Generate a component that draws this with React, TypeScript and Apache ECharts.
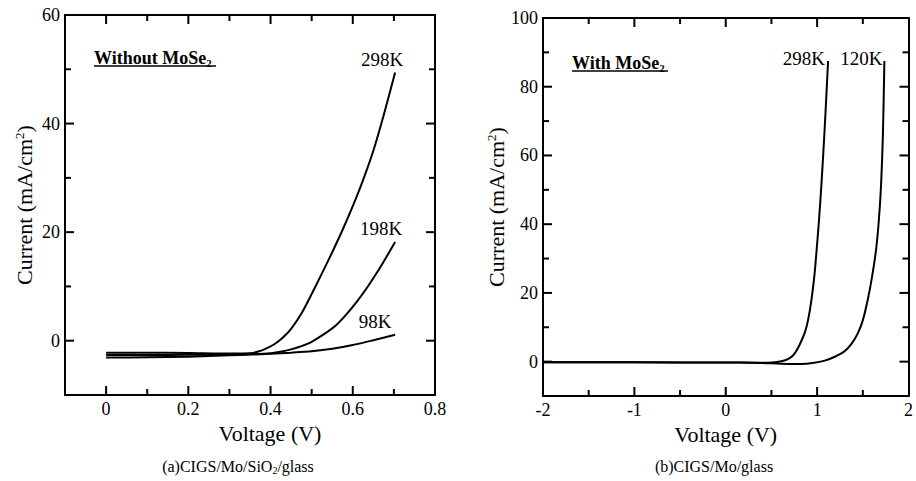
import React, { useEffect, useRef } from "react";
import * as echarts from "echarts";

// ---------- data ----------
// (a) CIGS/Mo/SiO2/glass — without MoSe2
const a298K: [number, number][] = [
  [0, -2.2], [0.1, -2.2], [0.2, -2.25], [0.3, -2.35], [0.35, -2.3], [0.37, -2.0],
  [0.39, -1.4], [0.41, -0.6], [0.43, 0.6], [0.45, 2.2], [0.475, 5.0], [0.5, 8.6],
  [0.525, 12.4], [0.55, 16.3], [0.575, 20.4], [0.6, 24.8], [0.625, 29.6],
  [0.65, 35.0], [0.675, 41.5], [0.703, 49.4],
];
const a198K: [number, number][] = [
  [0, -2.65], [0.1, -2.65], [0.2, -2.6], [0.3, -2.55], [0.35, -2.5], [0.4, -2.3],
  [0.43, -1.95], [0.45, -1.6], [0.475, -1.0], [0.5, -0.2], [0.53, 1.2], [0.56, 2.9],
  [0.585, 4.9], [0.61, 7.2], [0.635, 9.8], [0.66, 12.7], [0.68, 15.2], [0.703, 18.2],
];
const a98K: [number, number][] = [
  [0, -3.1], [0.1, -3.05], [0.2, -2.95], [0.3, -2.7], [0.35, -2.55], [0.4, -2.4],
  [0.45, -2.2], [0.5, -1.95], [0.55, -1.5], [0.6, -0.8], [0.65, 0.1], [0.703, 1.1],
];
// (b) CIGS/Mo/glass — with MoSe2
const b298K: [number, number][] = [
  [-2, -0.2], [-1, -0.2], [0, -0.25], [0.3, -0.3], [0.47, -0.3], [0.61, 0.1],
  [0.7, 1.0], [0.757, 2.5], [0.81, 5.0], [0.866, 8.5], [0.9, 12.0], [0.938, 18.0],
  [0.97, 25.0], [0.993, 32.0], [1.02, 41.0], [1.047, 51.5], [1.083, 68.0],
  [1.12, 87.5],
];
const b120K: [number, number][] = [
  [-2, -0.2], [-1, -0.2], [0, -0.25], [0.3, -0.3], [0.5, -0.5], [0.7, -0.7],
  [0.83, -0.7], [0.95, -0.4], [1.084, 0.3], [1.2, 1.5], [1.3, 3.0], [1.38, 5.3],
  [1.446, 8.3], [1.5, 12.0], [1.554, 18.0], [1.6, 24.5], [1.645, 32.6],
  [1.675, 41.0], [1.699, 51.0], [1.72, 66.0], [1.736, 87.5],
];

// axis ranges, labelled values and tick values
const aXRange = [-0.1, 0.8];
const aXLabels = [0, 0.2, 0.4, 0.6, 0.8];
const aXMajor = [0, 0.2, 0.4, 0.6];
const aXMinor = [0.1, 0.3, 0.5, 0.7];
const aYRange = [-10, 60];
const aYLabels = [0, 20, 40, 60];
const aYMajor = [0, 20, 40];
const aYMinor = [10, 30, 50];
const bXRange = [-2, 2];
const bXLabels = [-2, -1, 0, 1, 2];
const bXMajor = [-1, 0, 1];
const bXMinor = [-1.5, -0.5, 0.5, 1.5];
const bYRange = [-10, 100];
const bYLabels = [0, 20, 40, 60, 80, 100];
const bYMajor = [0, 20, 40, 60, 80];
const bYMinor = [10, 30, 50, 70, 90];

const FONT = "'Liberation Serif', 'Times New Roman', serif";

function axisSet(
  dim: "x" | "y",
  gridIndex: number,
  range: number[],
  labels: number[],
  name: string,
  nameGap: number,
  namePadding: number[]
) {
  const posMain = dim === "x" ? "bottom" : "left";
  const posOpp = dim === "x" ? "top" : "right";
  const line = { show: true, onZero: false, lineStyle: { color: "#000", width: 2 } };
  const base = {
    type: "value",
    gridIndex,
    min: range[0],
    max: range[1],
    splitLine: { show: false },
    axisLine: line,
    axisTick: { show: false },
  };
  const main: any = {
    ...base,
    position: posMain,
    axisLabel: {
      show: true,
      customValues: labels,
      color: "#000",
      fontFamily: FONT,
      fontSize: 18,
      margin: 5,
    },
    name,
    nameLocation: "middle",
    nameGap,
    nameRotate: dim === "y" ? 90 : 0,
    nameTextStyle: {
      color: "#000",
      fontFamily: FONT,
      fontSize: 22,
      padding: namePadding,
      rich: { sup: { fontSize: 13, fontFamily: FONT, color: "#000", verticalAlign: "top" } },
    },
  };
  const opp: any = {
    ...base,
    position: posOpp,
    axisLabel: { show: false },
  };
  return [main, opp];
}

// inward tick marks on both opposite edges of a grid, placed through the axis scale
function tickSeries(dim: "x" | "y", axisIndex: number, major: number[], minor: number[]): any {
  const rows = [...major.map((v) => [v, 1]), ...minor.map((v) => [v, 0])];
  return {
    type: "custom",
    xAxisIndex: axisIndex,
    yAxisIndex: axisIndex,
    silent: true,
    clip: false,
    z: 10,
    data: rows.map(([v, m]) => (dim === "x" ? [v, 0, m] : [0, v, m])),
    renderItem: (params: any, api: any) => {
      const cs = params.coordSys;
      const isMajor = api.value(2) === 1;
      const len = isMajor ? 9 : 6;
      const style = { stroke: "#000", lineWidth: 2 };
      const pt = api.coord([api.value(0), api.value(1)]);
      if (dim === "x") {
        const x = pt[0];
        const b = cs.y + cs.height;
        return {
          type: "group",
          children: [
            { type: "line", shape: { x1: x, y1: b, x2: x, y2: b - len }, style },
            { type: "line", shape: { x1: x, y1: cs.y, x2: x, y2: cs.y + len }, style },
          ],
        };
      }
      const y = pt[1];
      const r = cs.x + cs.width;
      return {
        type: "group",
        children: [
          { type: "line", shape: { x1: cs.x, y1: y, x2: cs.x + len, y2: y }, style },
          { type: "line", shape: { x1: r, y1: y, x2: r - len, y2: y }, style },
        ],
      };
    },
  };
}

function curve(
  data: [number, number][],
  axisIndex: number,
  label: string,
  position: string,
  distance: number,
  offset: number[]
): any {
  const last = data[data.length - 1];
  return {
    type: "line",
    xAxisIndex: axisIndex,
    yAxisIndex: axisIndex,
    data,
    showSymbol: false,
    smooth: 0.25,
    lineStyle: { color: "#000", width: 2 },
    silent: true,
    markPoint: {
      symbol: "circle",
      symbolSize: 0,
      silent: true,
      data: [
        {
          coord: last,
          label: {
            show: true,
            formatter: label,
            position,
            distance,
            offset,
            color: "#000",
            fontFamily: FONT,
            fontSize: 19,
          },
        },
      ],
    },
  };
}

export default function App() {
  const ref = useRef<HTMLDivElement>(null);
  useEffect(() => {
    if (!ref.current) return;
    const chart = echarts.init(ref.current, undefined, { renderer: "svg" });
    const xAxes = [
      ...axisSet("x", 0, aXRange, aXLabels, "Voltage (V)", 24, [0, 0, 0, 40]),
      ...axisSet("x", 1, bXRange, bXLabels, "Voltage (V)", 24, [0, 0, 0, 0]),
    ];
    const yAxes = [
      ...axisSet("y", 0, aYRange, aYLabels, "Current (mA/cm{sup|2})", 30, [0, 0, 0, 0]),
      ...axisSet("y", 1, bYRange, bYLabels, "Current (mA/cm{sup|2})", 30, [0, 0, 0, 0]),
    ];
    const titleRich = {
      t: { fontFamily: FONT, fontSize: 18, fontWeight: "bold", color: "#000", lineHeight: 20 },
      s: { fontFamily: FONT, fontSize: 11, fontWeight: "bold", color: "#000", verticalAlign: "bottom" },
    };
    const capRich = {
      c: { fontFamily: FONT, fontSize: 16, color: "#000", lineHeight: 18 },
      s: { fontFamily: FONT, fontSize: 10, color: "#000", verticalAlign: "bottom" },
    };
    chart.setOption({
      animation: false,
      backgroundColor: "#fff",
      grid: [
        { left: 65, top: 15, width: 370, height: 380, containLabel: false },
        { left: 543, top: 18, width: 369, height: 378, containLabel: false },
      ],
      xAxis: xAxes,
      yAxis: yAxes,
      series: [
        tickSeries("x", 0, aXMajor, aXMinor),
        tickSeries("y", 0, aYMajor, aYMinor),
        tickSeries("x", 2, bXMajor, bXMinor),
        tickSeries("y", 2, bYMajor, bYMinor),
        curve(a298K, 0, "298K", "top", 4, [-13, 0]),
        curve(a198K, 0, "198K", "top", 4, [-14, 0]),
        curve(a98K, 0, "98K", "top", 4, [-20, 0]),
        curve(b298K, 2, "298K", "left", 3, [0, -2]),
        curve(b120K, 2, "120K", "left", 2, [0, -2]),
      ],
      graphic: [
        {
          type: "text",
          left: 94,
          top: 49,
          style: { text: "{t|Without MoSe}{s|2}", rich: titleRich },
        },
        { type: "line", shape: { x1: 94, y1: 66, x2: 216, y2: 66 }, style: { stroke: "#000", lineWidth: 1.5 } },
        {
          type: "text",
          left: 572,
          top: 54,
          style: { text: "{t|With MoSe}{s|2}", rich: titleRich },
        },
        { type: "line", shape: { x1: 572, y1: 71, x2: 668, y2: 71 }, style: { stroke: "#000", lineWidth: 1.5 } },
        {
          type: "text",
          x: 238,
          y: 466,
          style: {
            text: "{c|(a)CIGS/Mo/SiO}{s|2}{c|/glass}",
            rich: capRich,
            align: "center",
            verticalAlign: "middle",
          },
        },
        {
          type: "text",
          x: 714,
          y: 466,
          style: {
            text: "{c|(b)CIGS/Mo/glass}",
            rich: capRich,
            align: "center",
            verticalAlign: "middle",
          },
        },
      ],
    });
    return () => chart.dispose();
  }, []);
  return (
    <div
      ref={ref}
      style={{ position: "fixed", left: 0, top: 0, width: 916, height: 481, background: "#fff" }}
    />
  );
}
